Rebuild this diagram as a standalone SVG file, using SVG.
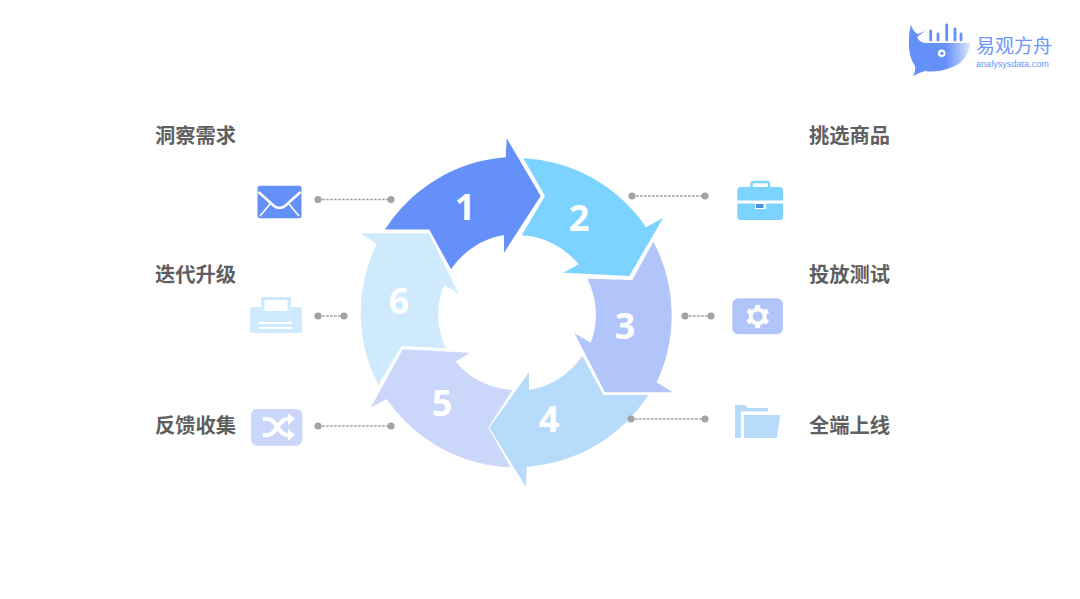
<svg xmlns="http://www.w3.org/2000/svg" width="1080" height="599" viewBox="0 0 1080 599">
<style>
.num{font-family:"Open Sans","Noto Sans",sans-serif;font-weight:700;font-size:36px;fill:#fff;text-anchor:middle}
.lbl{font-family:"Noto Sans CJK SC","Noto Sans",sans-serif;font-weight:700;font-size:20.300px;fill:#5f5f5f}
.dash{stroke:#a6a6a6;stroke-width:1.500;stroke-dasharray:2.800 1.200;fill:none}
.dot{fill:#a3a3a3}
</style>
<defs>
<linearGradient id="fade" x1="0" x2="1" y1="0" y2="0"><stop offset="0.6" stop-color="#6690f9"/><stop offset="0.78" stop-color="#95b4fa"/><stop offset="1" stop-color="#dbe6fe"/></linearGradient>
</defs>
<rect width="1080" height="599" fill="#fff"/>

<g id="connectors">
<path class="dash" d="M318 199.500H391"/><circle class="dot" cx="318" cy="199.500" r="3.600"/><circle class="dot" cx="391" cy="199.500" r="3.600"/>
<path class="dash" d="M632 196H705"/><circle class="dot" cx="632" cy="196" r="3.600"/><circle class="dot" cx="705" cy="196" r="3.600"/>
<path class="dash" d="M685 316H711"/><circle class="dot" cx="685" cy="316" r="3.600"/><circle class="dot" cx="711" cy="316" r="3.600"/>
<path class="dash" d="M318 316H344"/><circle class="dot" cx="318" cy="316" r="3.600"/><circle class="dot" cx="344" cy="316" r="3.600"/>
</g>

<g id="arrow-6"><path fill="#cfeafc" d="M378.300 385A157 157 0 0 1 376.700 244L360.700 233.300H429L458.300 293.300L444 285A79 79 0 0 0 445.700 348.300L401.700 346Z"/><text class="num" x="399" y="314">6</text></g>
<g id="arrow-5"><path fill="#cad7fb" d="M510.700 467.300A157 157 0 0 1 386.700 399L370.700 407.700L402.700 349.300L470 352.700L455.700 361.700A79 79 0 0 0 512.300 390L488.300 427.700Z"/><text class="num" x="442" y="416">5</text></g>
<g id="arrow-4"><path fill="#b7dcfb" d="M648.300 395A157 157 0 0 1 526.700 466.700L525.800 486.700L489.300 427.700L529 372.300V390A79 79 0 0 0 582.300 355.700L603.300 395Z"/><text class="num" x="549" y="432">4</text></g>
<g id="arrow-3"><path fill="#b2c5fa" d="M653.300 241.700A157 157 0 0 1 656.700 382.300L672.700 392.300H605L574.500 333.300L590.700 342.700A79 79 0 0 0 587.300 278.700L632.300 280Z"/><text class="num" x="625" y="339">3</text></g>
<g id="arrow-2"><path fill="#7dd3ff" d="M523.300 158.300A157 157 0 0 1 646 227.300L663.300 217.700L629.300 276L563.300 272.700L578.700 264.300A79 79 0 0 0 521.700 235.300L545 196Z"/><text class="num" x="579" y="231">2</text></g>
<g id="arrow-1"><path fill="#6690f9" d="M385 229.500A157 157 0 0 1 505.700 157.300L506.700 138.300L540.700 196L504 252.700V235A79 79 0 0 0 451 269.300L429.300 229.500Z"/><text class="num" x="465" y="220">1</text></g>

<g id="node-1"><text class="lbl" x="155" y="142.500">洞察需求</text>
<rect x="257.500" y="185.700" width="44" height="32.600" rx="2.500" fill="#6690f9"/>
<path d="M258.500 192L274 206Q279.500 210 285 206L300.500 192" fill="none" stroke="#fff" stroke-width="2.600"/>
<path d="M260 216L270.500 203.500M299 216L288.500 203.500" fill="none" stroke="#fff" stroke-width="1.600"/></g>

<g id="node-6"><text class="lbl" x="155" y="281.500">迭代升级</text>
<path fill="#cfeafc" d="M262 297H290Q291 297 291 299V307H298Q302 307 302 311V333H250V311Q250 307 254 307H261V299Q261 297 262 297Z"/>
<rect x="264.500" y="300" width="23" height="11" fill="#fff"/>
<path d="M259 323H292M259 328H292" stroke="#fff" stroke-width="2"/></g>

<g id="node-5"><text class="lbl" x="155" y="433">反馈收集</text>
<rect x="251" y="409" width="51.300" height="36.700" rx="6" fill="#cad7fb"/>
<path d="M263 419H268C276 419 279 435 287 435H290M263 435H268C276 435 279 419 287 419H290" fill="none" stroke="#fff" stroke-width="4"/>
<path d="M288 413L295 419L288 425ZM288 429L295 435L288 441Z" fill="#fff"/></g>

<g id="node-2"><text class="lbl" x="809" y="143">挑选商品</text>
<path d="M751.500 187V184Q751.500 182 753.500 182H767Q769 182 769 184V187" fill="none" stroke="#7dd3ff" stroke-width="2.400"/>
<path fill="#7dd3ff" d="M741 187H779.500Q783 187 783 190.500V200.500H737.300V190.500Q737.300 187 741 187ZM737.300 203.500H755V209H766V203.500H783V216.500Q783 220 779.500 220H741Q737.300 220 737.300 216.500Z"/>
<rect x="756" y="204" width="7.500" height="4" fill="#4a90e2"/></g>

<g id="node-3"><text class="lbl" x="809" y="281.500">投放测试</text>
<rect x="732.300" y="298.300" width="50.700" height="36" rx="6" fill="#b2c5fa"/>
<circle cx="757.700" cy="316.500" r="9" fill="#fff"/>
<path d="M757.700 305V328M747.700 310.700L767.700 322.300M747.700 322.300L767.700 310.700" stroke="#fff" stroke-width="5" fill="none"/>
<circle cx="757.700" cy="316.500" r="5" fill="#b2c5fa"/></g>

<g id="node-4"><text class="lbl" x="809" y="433">全端上线</text>
<path fill="#b7dcfb" d="M735 405H745L748 408H768V411.500H741V438H735Z"/>
<path fill="#b7dcfb" d="M744 415H780.300L777 438H744Z"/></g>

<path class="dash" d="M631 419H705"/><circle class="dot" cx="631" cy="419" r="3.600"/><circle class="dot" cx="705" cy="419" r="3.600"/>
<path class="dash" d="M318 426H391"/><circle class="dot" cx="318" cy="426" r="3.600"/><circle class="dot" cx="391" cy="426" r="3.600"/>

<g id="logo">
<path fill="url(#fade)" d="M911 25Q914 33 918 34L925 31L917 37Q919 42 925 43H970Q968 62 950 68Q937 73 925 71Q918 73 913 76Q916 70 915 66Q908 56 909 40Q909 31 911 25Z"/>
<path d="M930.700 31V40M938 34V40M946.700 25V40M955 29V40M961 34V40" stroke="#6690f9" stroke-width="2.800" stroke-linecap="round" fill="none"/>
<circle cx="941.700" cy="53.300" r="3.800" fill="#fff"/><circle cx="942" cy="53.300" r="1.600" fill="#6690f9"/>
<text x="976" y="53" font-family="'Noto Sans CJK SC',sans-serif" font-size="19" font-weight="400" fill="#6b96f7">易观方舟</text>
<text x="976" y="67" font-family="'Liberation Sans',sans-serif" font-size="9.100" fill="#6b96f7">analysysdata.com</text>
</g>
</svg>
